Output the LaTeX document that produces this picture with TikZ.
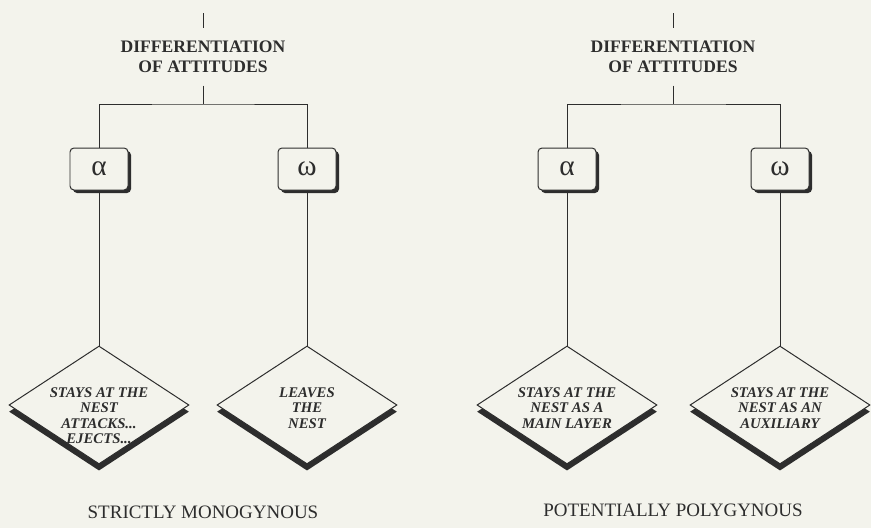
\documentclass[tikz,border=0pt]{standalone}
\usepackage{fontspec}
\setmainfont{Liberation Serif}
\usepackage{tikz}
\usetikzlibrary{shapes.geometric,shadows}

\definecolor{paper}{RGB}{243,243,236}
\definecolor{ink}{RGB}{45,45,45}

\tikzset{
	attitude/.style={font=\bfseries\fontsize{15}{17}\selectfont, align=center, text=ink, inner xsep=0pt, inner ysep=0.37cm},
	morph/.style={draw=ink, fill=paper, rounded corners=0.12cm, minimum width=1.74cm, minimum height=1.26cm, inner sep=0pt, font=\fontsize{25}{25}\selectfont, text=ink, drop shadow={shadow xshift=0.09cm, shadow yshift=-0.09cm, opacity=1, fill=ink}},
	leaf/.style={diamond, draw=ink, fill=paper, minimum width=5.4cm, minimum height=3.54cm, inner sep=0pt, drop shadow={shadow xshift=0cm, shadow yshift=-0.2cm, opacity=1, fill=ink}},
	leaftext/.style={font=\bfseries\itshape\fontsize{12.6}{13.2}\selectfont, align=center, text=ink, inner sep=0pt, anchor=north},
	verdict/.style={font=\fontsize{16.2}{17}\selectfont, text=ink, anchor=base},
	link/.style={draw=ink, line width=0.85pt}
}

\begin{document}
\begin{tikzpicture}[x=0.03cm, y=-0.03cm, line width=0.85pt]
	\fill[paper] (0,0) rectangle (871,528);
	\useasboundingbox (0,0) rectangle (871,528);

	% heading and stem of each tree
	\foreach \x/\n in {203/L,673/R}{
		\coordinate (top\n) at (\x,13);
		\coordinate (fork\n) at (\x,104);
		\node[attitude] (diff\n) at (\x,57) {DIFFERENTIATION\\OF ATTITUDES};
		\draw[link] (top\n) -- (diff\n) -- (fork\n);
	}

	\node[morph] (alphaL) at (99,169) {α};
	\node[morph] (omegaL) at (307,169) {ω};
	\node[morph] (alphaR) at (567,169) {α};
	\node[morph] (omegaR) at (780,169) {ω};

	\draw[link] (alphaL) |- (forkL) -| (omegaL);
	\draw[link] (alphaR) |- (forkR) -| (omegaR);

	\node[leaf] (stayL) at (99,405) {};
	\node[leaf] (leaveL) at (307,405) {};
	\node[leaf] (mainR) at (567,405) {};
	\node[leaf] (auxR) at (780,405) {};

	\draw[link] (alphaL) -- (stayL);
	\draw[link] (omegaL) -- (leaveL);
	\draw[link] (alphaR) -- (mainR);
	\draw[link] (omegaR) -- (auxR);

	\node[leaftext] (stayLtext) at (99,387) {STAYS AT THE\\NEST\\ATTACKS...\\EJECTS...};
	\node[leaftext] (leaveLtext) at (307,387) {LEAVES\\THE\\NEST};
	\node[leaftext] (mainRtext) at (567,387) {STAYS AT THE\\NEST AS A\\MAIN LAYER};
	\node[leaftext] (auxRtext) at (780,387) {STAYS AT THE\\NEST AS AN\\AUXILIARY};

	\node[verdict] (monoL) at (203,518) {STRICTLY MONOGYNOUS};
	\node[verdict] (polyR) at (673,516) {POTENTIALLY POLYGYNOUS};
\end{tikzpicture}
\end{document}
